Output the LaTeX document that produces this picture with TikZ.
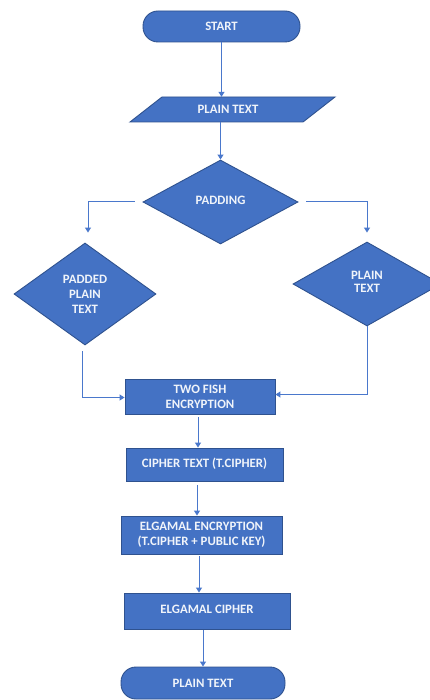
\documentclass[tikz,border=0pt]{standalone}
\usepackage{fontspec}
\setmainfont{Carlito}
\usetikzlibrary{shapes.geometric,arrows.meta}
\definecolor{nodefill}{HTML}{4472C4}
\definecolor{nodeline}{HTML}{2F528F}
\definecolor{arrowcol}{HTML}{4A78CC}
\begin{document}
\begin{tikzpicture}[x=1pt,y=-1pt,
  box/.style={draw=nodeline, line width=0.9pt, fill=nodefill, text=white!92!nodefill,
    font=\fontsize{12.8}{15}\selectfont\bfseries, align=center, inner sep=0pt},
  term/.style={box, rounded corners=15pt},
  dia/.style={box, diamond},
  lbl/.style={text=white!92!nodefill, font=\fontsize{12.8}{15}\selectfont\bfseries, align=center, inner sep=0pt},
  arr/.style={draw=arrowcol, line width=1pt, -{Triangle[length=5pt,width=6pt]}}]
\useasboundingbox[fill=white] (0,0) rectangle (430,700);
% start
\node[term, minimum width=157pt, minimum height=31pt] (start) at (221.5,26.5) {START};
% parallelogram input
\draw[draw=nodeline, line width=0.9pt, fill=nodefill] (162,97) -- (335,97) -- (303,122) -- (130,122) -- cycle;
\node[lbl, minimum height=25pt] (pt) at (228,109.5) {PLAIN TEXT};
% padding decision
\node[dia, minimum width=155pt, minimum height=84pt] (pad) at (220.5,202) {\raisebox{4pt}{PADDING}};
\node[dia, minimum width=142pt, minimum height=102pt] (pdd) at (85,294) {PADDED\\PLAIN\\TEXT};
\node[dia, minimum width=148pt, minimum height=84pt] (ptr) at (367,284) {\raisebox{4pt}{\shortstack{PLAIN\\[2pt]TEXT}}};
% process boxes
\node[box, minimum width=150pt, minimum height=35pt] (tf) at (200,396.5) {TWO FISH\\ENCRYPTION};
\node[box, minimum width=157pt, minimum height=33pt] (ct) at (204.5,464.5) {\raisebox{3pt}{CIPHER TEXT (T.CIPHER)}};
\node[box, minimum width=161pt, minimum height=38pt] (ee) at (201.5,535) {ELGAMAL ENCRYPTION\\(T.CIPHER + PUBLIC KEY)};
\node[box, minimum width=166pt, minimum height=36pt] (ec) at (207,611) {\raisebox{3pt}{ELGAMAL CIPHER}};
\node[term, minimum width=164pt, minimum height=32pt] (stop) at (203,683) {PLAIN TEXT};
% connector coordinates
\coordinate (c1) at (198,417);
\coordinate (c2) at (197,485);
\coordinate (c3) at (199,556);
\coordinate (c4) at (203,630);
\coordinate (l1) at (82,351);
% connectors
\draw[arr] (start.south) -- (start.south |- pt.north);
\draw[arr] (pt.south -| pad.north) -- (pad.north);
\draw[arr] ([xshift=-8pt]pad.west) -| ([xshift=3pt,yshift=10pt]pdd.north);
\draw[arr] ([xshift=8pt]pad.east) -| ([yshift=9pt]ptr.north);
\draw[arr] (l1) |- ([yshift=-1pt]tf.west);
\draw[arr] (ptr.south) |- ([yshift=2pt]tf.east);
\draw[arr] (c1) -- (c1 |- ct.north);
\draw[arr] (c2) -- (c2 |- ee.north);
\draw[arr] (c3) -- (c3 |- ec.north);
\draw[arr] (c4) -- (c4 |- stop.north);
\end{tikzpicture}
\end{document}
